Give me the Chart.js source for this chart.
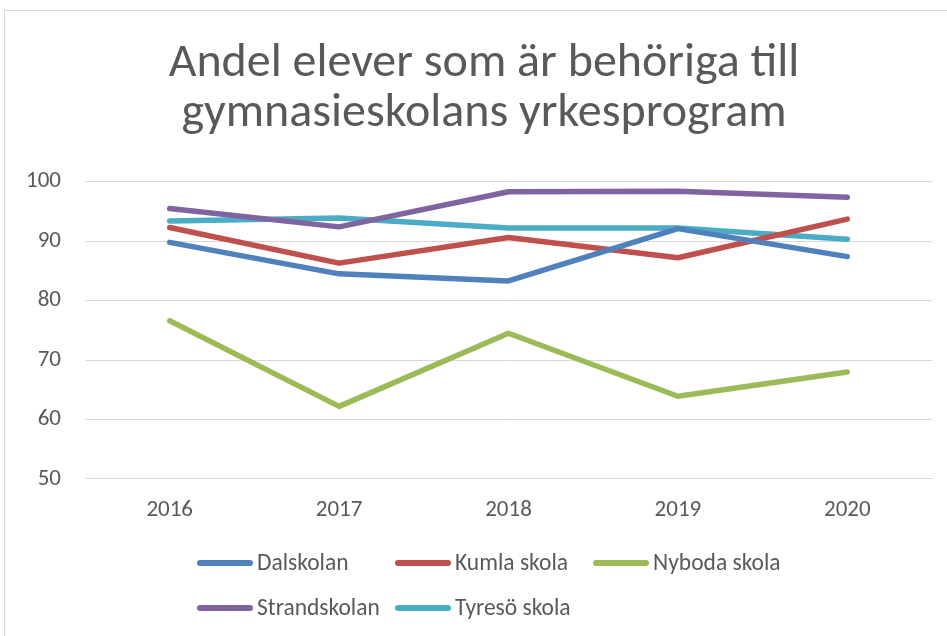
<!DOCTYPE html>
<html><head><meta charset="utf-8">
<script src="https://cdn.jsdelivr.net/npm/chart.js@4.4.0/dist/chart.umd.min.js"></script>
<style>
html,body{margin:0;padding:0;background:#fff;}
#wrap{position:relative;width:947px;height:636px;overflow:hidden;}
#frame{position:absolute;left:4px;top:10px;width:1000px;height:700px;border:1px solid #d9d9d9;box-sizing:border-box;}
#c{position:absolute;left:0;top:0;}
</style></head>
<body><div id="wrap"><div id="frame"></div><canvas id="c" width="947" height="636"></canvas></div>
<script>
const years = ['2016','2017','2018','2019','2020'];
const seriesNames = ['Dalskolan','Kumla skola','Nyboda skola','Strandskolan','Tyresö skola'];
const dalskolan    = [89.8, 84.5, 83.3, 92.1, 87.4];
const kumlaSkola   = [92.3, 86.3, 90.6, 87.2, 93.7];
const nybodaSkola  = [76.6, 62.2, 74.5, 63.9, 68.0];
const strandskolan = [95.5, 92.4, 98.3, 98.4, 97.4];
const tyresoSkola  = [93.4, 93.9, 92.2, 92.2, 90.3];
const yTicks = [50, 60, 70, 80, 90, 100];
const titleLines = ['Andel elever som är behöriga till', 'gymnasieskolans yrkesprogram'];

const colors = ['#4F81BD','#C0504D','#9BBB59','#8064A2','#4BACC6'];
const FONT = "Carlito, 'Open Sans', sans-serif";
const seriesValues = [dalskolan, kumlaSkola, nybodaSkola, strandskolan, tyresoSkola];

const legendPlugin = {
  id: 'excelLegend',
  afterLayout(chart) {
    if (chart.titleBlock) { chart.titleBlock.left = 36; }
  },
  afterDraw(chart) {
    const ctx = chart.ctx;
    ctx.save();
    ctx.font = "23.5px " + FONT;
    ctx.textBaseline = 'middle';
    ctx.fillStyle = '#595959';
    const lineLen = 56, gap = 4, colW = 198, left = 197;
    const rowsY = [563, 608];
    chart.data.datasets.forEach((ds, i) => {
      const col = i % 3, row = Math.floor(i / 3);
      const x = left + col * colW, y = rowsY[row];
      ctx.strokeStyle = ds.borderColor;
      ctx.lineWidth = 6;
      ctx.lineCap = 'round';
      ctx.beginPath(); ctx.moveTo(x + 3, y); ctx.lineTo(x + lineLen - 3, y); ctx.stroke();
      ctx.fillText(ds.label, x + lineLen + gap, y + 1);
    });
    ctx.restore();
  }
};

const chart = new Chart(document.getElementById('c'), {
  type: 'line',
  data: {
    labels: years,
    datasets: seriesNames.map((n, i) => ({
      label: n, data: seriesValues[i], borderColor: colors[i], backgroundColor: colors[i],
      borderWidth: 5.5, pointRadius: 0, pointHoverRadius: 0, tension: 0,
      borderCapStyle: 'round', borderJoinStyle: 'round', fill: false
    }))
  },
  options: {
    responsive: false, animation: false, devicePixelRatio: 1,
    layout: { padding: { left: 0, right: 15, top: 0, bottom: 93.5 } },
    plugins: {
      legend: { display: false },
      tooltip: { enabled: false },
      title: {
        display: true, text: titleLines, color: '#595959',
        font: { family: FONT, size: 48, weight: 'normal', lineHeight: 50/48 },
        padding: { top: 38.9, bottom: 42.8 }
      }
    },
    scales: {
      x: {
        offset: true,
        grid: { display: false, drawTicks: false },
        border: { display: true, color: '#d9d9d9', width: 1 },
        ticks: { color: '#595959', font: { family: FONT, size: 23 }, padding: 18 }
      },
      y: {
        min: 50, max: 100,
        afterBuildTicks: (s) => { s.ticks = yTicks.map(v => ({ value: v })); },
        afterFit: (s) => { s.width = 85; },
        grid: { color: '#d9d9d9', lineWidth: 1, drawTicks: false },
        border: { display: false },
        ticks: { color: '#595959', font: { family: FONT, size: 23 }, padding: 24 }
      }
    }
  },
  plugins: [legendPlugin]
});
</script></body></html>
